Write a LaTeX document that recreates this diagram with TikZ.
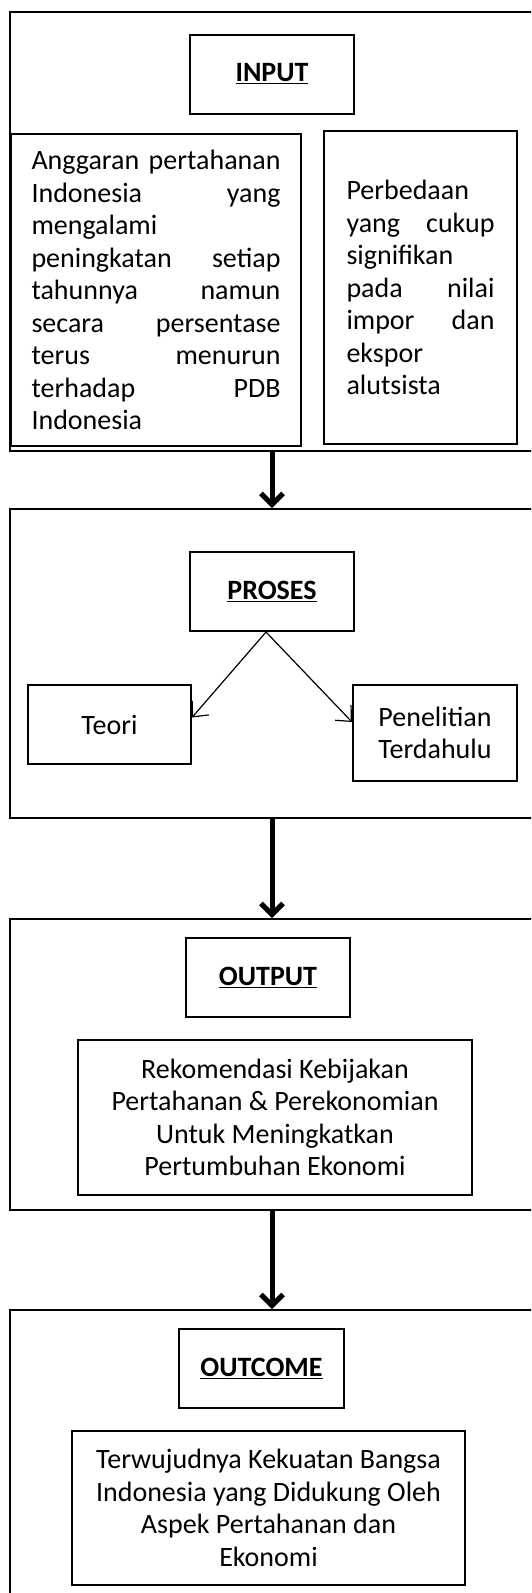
\documentclass[tikz,border=0pt]{standalone}
\usepackage{fontspec}
\setmainfont{Carlito}
\usetikzlibrary{arrows.meta}
\begin{document}
\begin{tikzpicture}[x=1pt,y=-1pt,
	font=\fontsize{28}{32.5}\selectfont,
	frame/.style={draw,line width=2pt,minimum width=524pt,inner sep=0pt},
	titlebox/.style={draw,line width=2pt,minimum width=164pt,minimum height=79pt,inner sep=0pt,font=\fontsize{28}{32.5}\selectfont\bfseries},
	textbox/.style={draw,line width=2pt,align=center,inner sep=0pt},
	flow/.style={line width=5pt,-{Straight Barb[length=11pt,width=22pt]}},
	branch/.style={line width=1.2pt,-{Straight Barb[length=12pt,width=22pt]}}]
	\useasboundingbox (0,0) rectangle (531,1593);
	\clip (0,0) rectangle (531,1593);
	% input
	\node[frame,minimum height=439pt] (inbox) at (272,231.5) {};
	\node[titlebox] (intitle) at (272,74) {\underline{INPUT}};
	\node[textbox,minimum width=290pt,minimum height=312pt,text width=249pt,align=left] (inleft) at (156,290)
		{Anggaran\hfill pertahanan\\ Indonesia\hfill yang\\ mengalami\\ peningkatan\hfill setiap\\ tahunnya\hfill namun\\ secara\hfill persentase\\ terus\hfill menurun\\ terhadap\hfill PDB\\ Indonesia};
	\node[textbox,minimum width=193pt,minimum height=313pt,text width=148pt,align=left] (inright) at (420.5,287.5)
		{Perbedaan\\ yang\hfill cukup\\ signifikan\\ pada\hfill nilai\\ impor\hfill dan\\ ekspor\\ alutsista};
	% proses
	\node[frame,minimum height=309pt] (proc) at (272,663.5) {};
	\node[titlebox] (proctitle) at (272,591.5) {\underline{PROSES}};
	\node[textbox,minimum width=163pt,minimum height=79pt] (teori) at (109.5,724.5) {Teori};
	\node[textbox,minimum width=164pt,minimum height=96pt] (terdahulu) at (435,733) {Penelitian\\ Terdahulu};
	\draw[branch] ([xshift=-6pt]proctitle.south) -- ([yshift=7pt]teori.east);
	\draw[branch] ([xshift=-6pt]proctitle.south) -- ([yshift=11pt]terdahulu.west);
	% output
	\node[frame,minimum height=291pt] (out) at (272,1064.5) {};
	\node[titlebox] (outtitle) at (268,977.5) {\underline{OUTPUT}};
	\node[textbox,minimum width=394pt,minimum height=155pt] (outtext) at (275,1117.5)
		{Rekomendasi Kebijakan\\ Pertahanan \& Perekonomian\\ Untuk Meningkatkan\\ Pertumbuhan Ekonomi};
	% outcome
	\node[frame,minimum height=320pt] (outc) at (272,1470) {};
	\node[titlebox,minimum width=165pt] (outctitle) at (261.5,1368.5) {\underline{OUTCOME}};
	\node[textbox,minimum width=393pt,minimum height=154pt] (outctext) at (268.5,1508)
		{Terwujudnya Kekuatan Bangsa\\ Indonesia yang Didukung Oleh\\ Aspek Pertahanan dan\\ Ekonomi};
	% alur
	\draw[flow] (inbox.south) -- (proc.north);
	\draw[flow] (proc.south) -- (out.north);
	\draw[flow] (out.south) -- (outc.north);
\end{tikzpicture}
\end{document}
